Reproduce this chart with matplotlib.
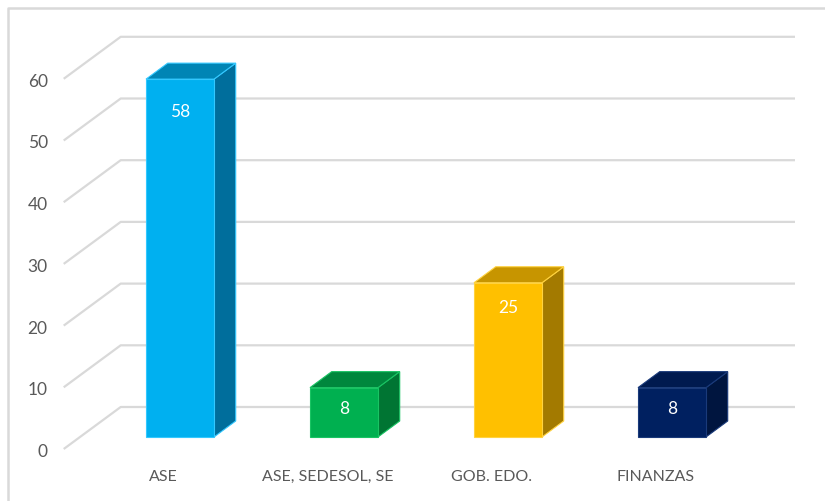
import matplotlib
matplotlib.use("Agg")
import matplotlib.pyplot as plt
from matplotlib.patches import Polygon

plt.rcParams['font.family'] = ['Lato', 'DejaVu Sans']

categories = ["ASE", "ASE, SEDESOL, SE", "GOB. EDO.", "FINANZAS"]
values = [58, 8, 25, 8]
yticks = [0, 10, 20, 30, 40, 50, 60]

front_colors = ["#00B0F0", "#00B050", "#FFC000", "#002060"]
top_colors = ["#0085B5", "#00873D", "#C79500", "#001A4F"]
side_colors = ["#006E9C", "#007533", "#A37A00", "#00153F"]
edge_colors = ["#33C8FF", "#19C463", "#FFD23F", "#1A3A7A"]
label_drop_px = [32, 20, 24, 20]   # data-label distance below bar top (style)

W, H = 825, 502
fig = plt.figure(figsize=(W / 100, H / 100), dpi=100)
ax = fig.add_axes([0, 0, 1, 1])
PX_CAT = 164.0      # pixels per category
PX_VAL = 6.17       # pixels per value unit
X0 = 180.0          # pixel x of category 0 (bar front plane)
Y0 = 438.0          # pixel y (from top) of value 0 at bar front plane
ax.set_xlim(-X0 / PX_CAT, (W - X0) / PX_CAT)
ax.set_ylim((Y0 - H) / PX_VAL, Y0 / PX_VAL)
ax.axis("off")

# depth direction: full floor depth from floor-front (t=0) to back wall (t=1)
DX = 57 / PX_CAT
DV = 42 / PX_VAL
T_BAR_FRONT = 12 / 42
T_BAR_BACK = 28 / 42


def proj(x, v, t):
    s = t - T_BAR_FRONT
    return (x + s * DX, v + s * DV)


grid_c = "#D9D9D9"
x_left = -0.6098
x_right_back = (795 - X0) / PX_CAT - (1 - T_BAR_FRONT) * DX
for v in yticks:
    a = proj(x_left, v, 0)
    b = proj(x_left, v, 1)
    c = proj(x_right_back, v, 1)
    ax.plot([a[0], b[0], c[0]], [a[1], b[1], c[1]], color=grid_c, lw=1.6,
            solid_capstyle="butt", zorder=1)
    ax.text(proj(x_left, v, 0)[0] - 16 / PX_CAT, a[1] - 2 / PX_VAL, str(v),
            ha="right", va="center", fontsize=12.5, color="#595959")

bw = 68 / PX_CAT
for i, (val, fc, tc, sc, ec) in enumerate(zip(values, front_colors, top_colors,
                                               side_colors, edge_colors)):
    xl, xr = i - bw / 2, i + bw / 2
    tf, tb = T_BAR_FRONT, T_BAR_BACK
    front = [proj(xl, 0, tf), proj(xr, 0, tf), proj(xr, val, tf), proj(xl, val, tf)]
    side = [proj(xr, 0, tf), proj(xr, 0, tb), proj(xr, val, tb), proj(xr, val, tf)]
    top = [proj(xl, val, tf), proj(xr, val, tf), proj(xr, val, tb), proj(xl, val, tb)]
    for poly, col in ((side, sc), (top, tc), (front, fc)):
        ax.add_patch(Polygon(poly, closed=True, facecolor=col, edgecolor=ec,
                             lw=0.8, joinstyle="miter", zorder=3))
    lx, ly = proj(i, val, tf)
    ax.text(lx, ly - label_drop_px[i] / PX_VAL, str(val), ha="center",
            va="center", fontsize=12.5, color="white", zorder=4)
    cx, cy = proj(i, 0, 0)
    ax.text(cx, cy - 27 / PX_VAL, categories[i], ha="center", va="center",
            fontsize=11.5, color="#595959")

# chart border (partial, as in reference)
bx = (8 - X0) / PX_CAT
by_top = (Y0 - 8.5) / PX_VAL
by_bot = (Y0 - H) / PX_VAL
ax.plot([bx, bx, ax.get_xlim()[1]], [by_bot, by_top, by_top], color="#D9D9D9",
        lw=1.8, zorder=0)

fig.savefig("out.png", dpi=100)
